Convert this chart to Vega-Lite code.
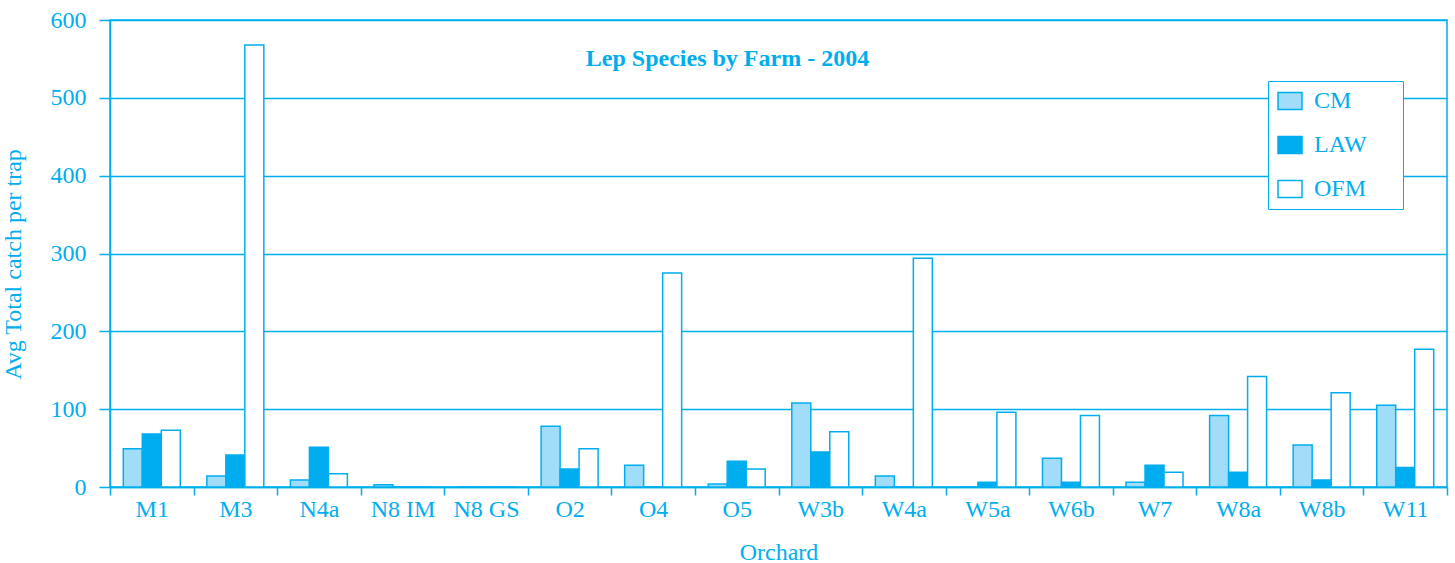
{
  "$schema": "https://vega.github.io/schema/vega-lite/v6.json",
  "width": 1337,
  "height": 467,
  "autosize": "none",
  "padding": {"left": 110, "top": 20, "right": 8, "bottom": 76},
  "background": "white",
  "title": {
    "text": "Lep Species by Farm - 2004",
    "font": "Liberation Serif",
    "fontSize": 24,
    "fontWeight": "bold",
    "color": "#00aeef",
    "anchor": "middle",
    "baseline": "bottom",
    "offset": -87,
    "dx": -51
  },
  "data": {
    "values": [
      {"orchard": "M1", "species": "CM", "value": 49},
      {"orchard": "M1", "species": "LAW", "value": 68},
      {"orchard": "M1", "species": "OFM", "value": 73},
      {"orchard": "M3", "species": "CM", "value": 14},
      {"orchard": "M3", "species": "LAW", "value": 41},
      {"orchard": "M3", "species": "OFM", "value": 568},
      {"orchard": "N4a", "species": "CM", "value": 9},
      {"orchard": "N4a", "species": "LAW", "value": 51},
      {"orchard": "N4a", "species": "OFM", "value": 17},
      {"orchard": "N8 IM", "species": "CM", "value": 3},
      {"orchard": "N8 IM", "species": "LAW", "value": 0},
      {"orchard": "N8 IM", "species": "OFM", "value": 0},
      {"orchard": "N8 GS", "species": "CM", "value": 0},
      {"orchard": "N8 GS", "species": "LAW", "value": 0},
      {"orchard": "N8 GS", "species": "OFM", "value": 0},
      {"orchard": "O2", "species": "CM", "value": 78},
      {"orchard": "O2", "species": "LAW", "value": 23},
      {"orchard": "O2", "species": "OFM", "value": 49},
      {"orchard": "O4", "species": "CM", "value": 28},
      {"orchard": "O4", "species": "LAW", "value": 0},
      {"orchard": "O4", "species": "OFM", "value": 275},
      {"orchard": "O5", "species": "CM", "value": 4},
      {"orchard": "O5", "species": "LAW", "value": 33},
      {"orchard": "O5", "species": "OFM", "value": 23},
      {"orchard": "W3b", "species": "CM", "value": 108},
      {"orchard": "W3b", "species": "LAW", "value": 45},
      {"orchard": "W3b", "species": "OFM", "value": 71},
      {"orchard": "W4a", "species": "CM", "value": 14},
      {"orchard": "W4a", "species": "LAW", "value": 0},
      {"orchard": "W4a", "species": "OFM", "value": 294},
      {"orchard": "W5a", "species": "CM", "value": 0},
      {"orchard": "W5a", "species": "LAW", "value": 6},
      {"orchard": "W5a", "species": "OFM", "value": 96},
      {"orchard": "W6b", "species": "CM", "value": 37},
      {"orchard": "W6b", "species": "LAW", "value": 6},
      {"orchard": "W6b", "species": "OFM", "value": 92},
      {"orchard": "W7", "species": "CM", "value": 6},
      {"orchard": "W7", "species": "LAW", "value": 28},
      {"orchard": "W7", "species": "OFM", "value": 19},
      {"orchard": "W8a", "species": "CM", "value": 92},
      {"orchard": "W8a", "species": "LAW", "value": 19},
      {"orchard": "W8a", "species": "OFM", "value": 142},
      {"orchard": "W8b", "species": "CM", "value": 54},
      {"orchard": "W8b", "species": "LAW", "value": 9},
      {"orchard": "W8b", "species": "OFM", "value": 121},
      {"orchard": "W11", "species": "CM", "value": 105},
      {"orchard": "W11", "species": "LAW", "value": 25},
      {"orchard": "W11", "species": "OFM", "value": 177}
    ]
  },
  "mark": {"type": "bar", "stroke": "#00aeef", "strokeWidth": 1.5},
  "encoding": {
    "x": {
      "field": "orchard",
      "type": "nominal",
      "sort": null,
      "scale": {"paddingInner": 0, "paddingOuter": 0},
      "axis": {
        "title": "Orchard",
        "labelAngle": 0,
        "tickBand": "extent",
        "tickSize": 8,
        "labelPadding": 2,
        "titlePadding": 19
      }
    },
    "xOffset": {
      "field": "species",
      "type": "nominal",
      "scale": {"paddingInner": 0, "paddingOuter": 0.7}
    },
    "y": {
      "field": "value",
      "type": "quantitative",
      "scale": {"domain": [0, 600], "nice": false},
      "axis": {
        "title": "Avg Total catch per trap",
        "values": [0, 100, 200, 300, 400, 500, 600],
        "tickSize": 11,
        "labelPadding": 13,
        "titlePadding": 25,
        "titleY": 244,
        "grid": true
      }
    },
    "fill": {
      "field": "species",
      "type": "nominal",
      "scale": {"domain": ["CM", "LAW", "OFM"], "range": ["#a1ddf8", "#00aeef", "#ffffff"]},
      "legend": {
        "title": "MM",
        "titleOrient": "right",
        "titleOpacity": 0,
        "titleFontSize": 16,
        "titlePadding": 1,
        "orient": "none",
        "legendX": 1158,
        "legendY": 61,
        "padding": 8,
        "rowPadding": 20,
        "strokeColor": "#00aeef",
        "fillColor": "white",
        "symbolType": "M-1.2,-0.85H1.2V0.85H-1.2Z",
        "symbolSize": 400,
        "symbolStrokeColor": "#00aeef",
        "symbolStrokeWidth": 1.5,
        "symbolOpacity": 1,
        "symbolOffset": 2,
        "labelFont": "Liberation Serif",
        "labelFontSize": 24,
        "labelColor": "#00aeef",
        "labelOffset": 12
      }
    }
  },
  "config": {
    "view": {"stroke": "#00aeef", "strokeWidth": 1.5},
    "axis": {
      "domainColor": "#00aeef",
      "domainWidth": 1.5,
      "tickColor": "#00aeef",
      "tickWidth": 1.5,
      "gridColor": "#00aeef",
      "gridWidth": 1.5,
      "gridOpacity": 1,
      "labelFont": "Liberation Serif",
      "labelFontSize": 24,
      "labelColor": "#00aeef",
      "titleFont": "Liberation Serif",
      "titleFontSize": 24,
      "titleFontWeight": "normal",
      "titleColor": "#00aeef"
    },
    "axisX": {"grid": false}
  }
}
